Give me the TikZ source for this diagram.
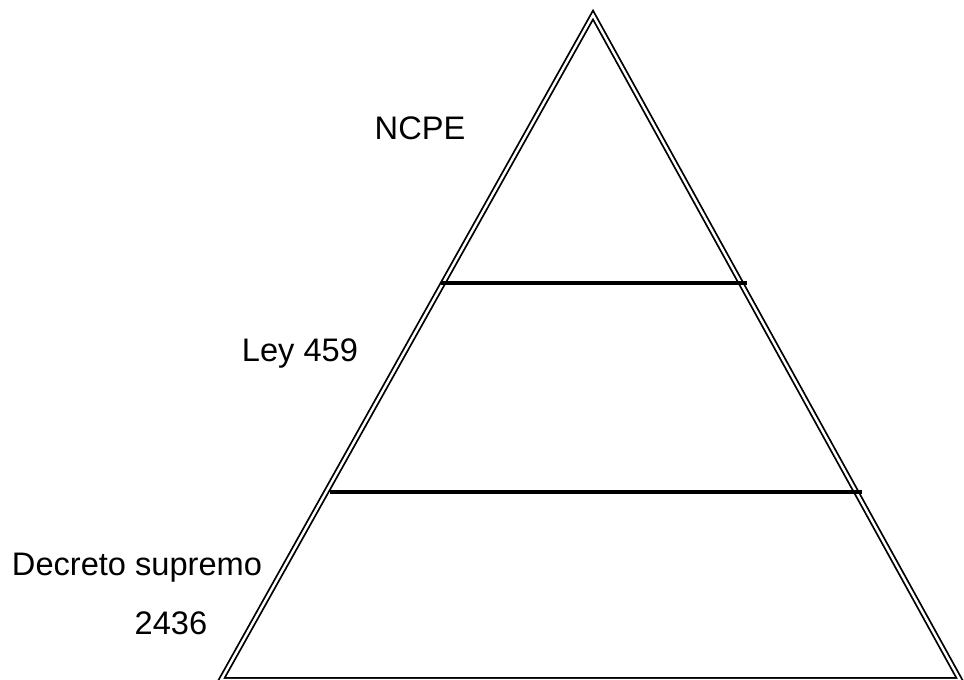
\documentclass[tikz,border=0pt]{standalone}
\usepackage{fontspec}
\setmainfont{Liberation Sans}
\usetikzlibrary{positioning,calc}

\begin{document}
\begin{tikzpicture}[x=1pt, y=-1pt, thick,
    edge/.style={draw, line width=1.8pt, double, double distance=2.4pt, line join=miter},
    level/.style={draw, line width=4.5pt},
    label/.style={font=\fontsize{32.6}{39}\selectfont, inner sep=0pt}]
    \useasboundingbox (0,0) rectangle (964,680);
    \begin{scope}
    \clip (0,0) rectangle (964,680);
    \coordinate (top) at (593,15);
    \coordinate (bl) at (221,680);
    \coordinate (br) at (960,680);
    \draw [edge] (top) -- (bl) -- (br) -- cycle;
    \end{scope}

    % levels
    \coordinate (l1a) at (441,283);
    \coordinate (l1b) at (747,283);
    \coordinate (l2a) at (330,492);
    \coordinate (l2b) at (862,492);
    \draw [level] (l1a) -- (l1b);
    \draw [level] (l2a) -- (l2b);

    \node [label] (ncpe) at (420,128) {NCPE};
    \node [label] (ley) at (300,353) {Ley 459};
    \node [label] (decreto) at (137,568) {Decreto supremo};
    \node [label, below=28pt of decreto.south, anchor=north, xshift=34pt] (num) {2436};
\end{tikzpicture}
\end{document}
